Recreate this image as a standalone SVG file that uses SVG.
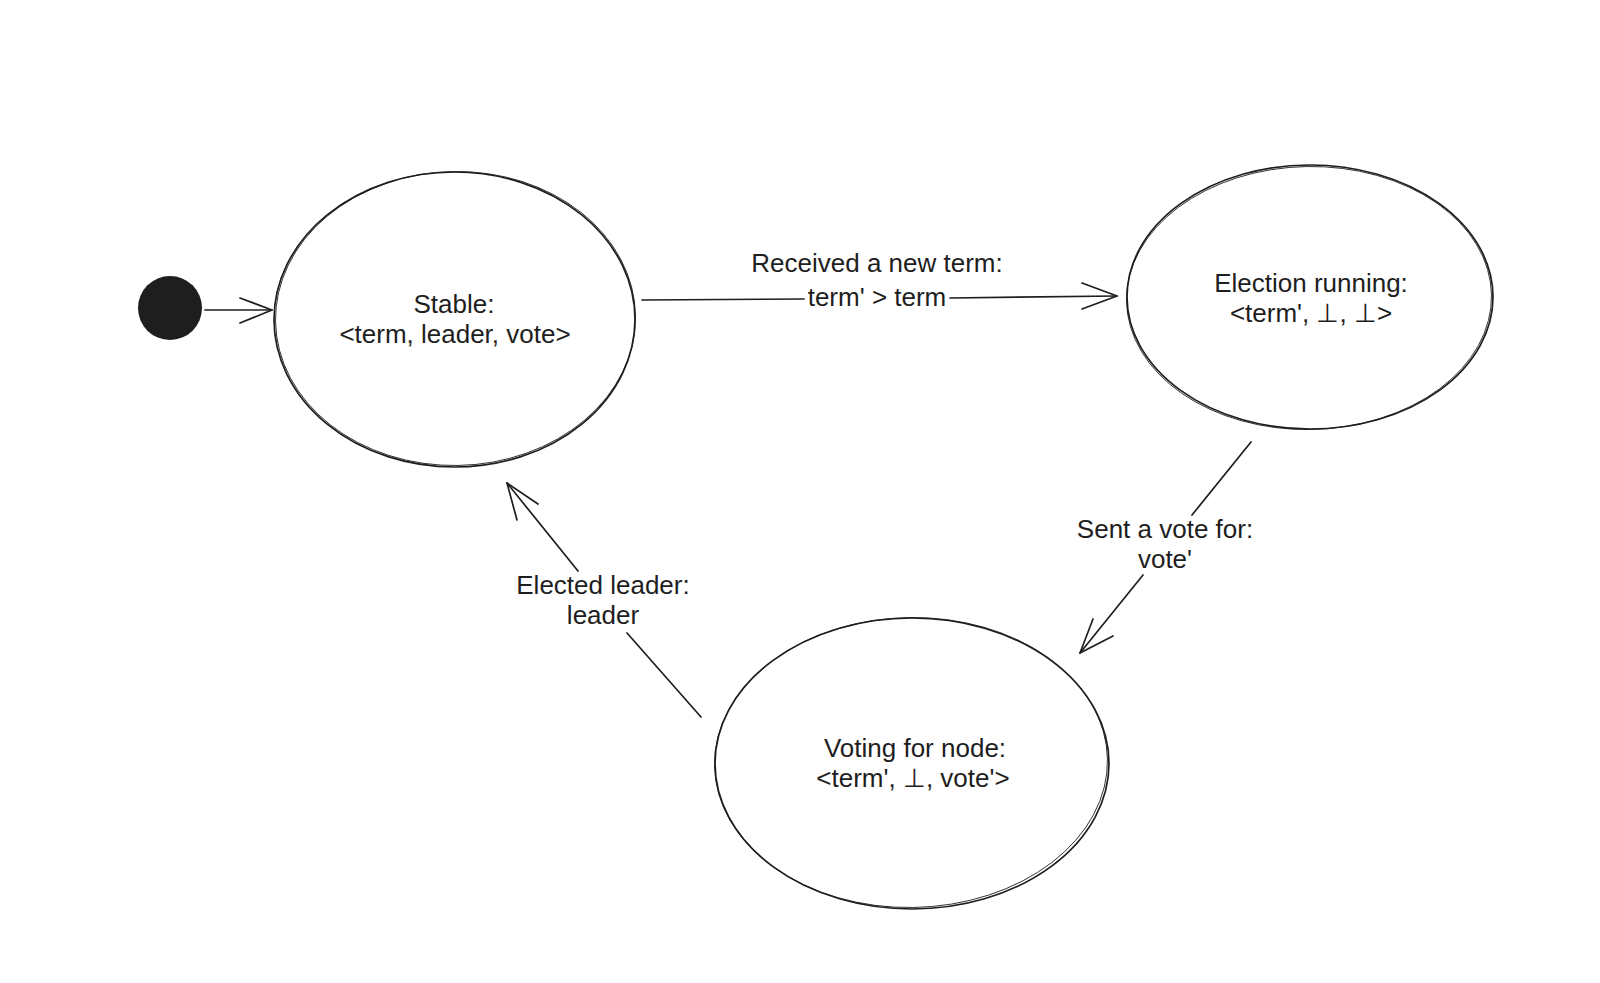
<svg xmlns="http://www.w3.org/2000/svg" width="1600" height="983" viewBox="0 0 1600 983">
<style>
.bg{fill:#ffffff}
.node{fill:none;stroke:#1e1e1e;stroke-width:1.7}
.node2{fill:none;stroke:#1e1e1e;stroke-width:0.9}
.edge{fill:none;stroke:#1e1e1e;stroke-width:1.7;stroke-linecap:round;stroke-linejoin:round}
.lbl{font-family:"Liberation Sans","Noto Sans",sans-serif;font-size:26px;fill:#1e1e1e;text-anchor:middle}
</style>
<rect class="bg" x="0" y="0" width="1600" height="983"/>
<g id="start">
<circle cx="170" cy="308" r="32" fill="#1e1e1e"/>
</g>
<g id="stable">
<ellipse class="node" cx="454.5" cy="319.5" rx="180.5" ry="147.5"/>
<ellipse class="node2" cx="455.5" cy="318.5" rx="180" ry="147" transform="rotate(-1 455 319)"/>
<text class="lbl" x="454" y="313">Stable:</text>
<text class="lbl" x="455" y="343">&lt;term, leader, vote&gt;</text>
</g>
<g id="election">
<ellipse class="node" cx="1310" cy="297" rx="183" ry="132"/>
<ellipse class="node2" cx="1309" cy="298" rx="182.5" ry="131.5" transform="rotate(-1 1310 297)"/>
<text class="lbl" x="1311" y="292">Election running:</text>
<text class="lbl" x="1311" y="322">&lt;term', ⊥, ⊥&gt;</text>
</g>
<g id="voting">
<ellipse class="node" cx="912" cy="763.5" rx="197" ry="145.5"/>
<ellipse class="node2" cx="911" cy="762.5" rx="196.5" ry="145" transform="rotate(-1 912 763)"/>
<text class="lbl" x="915" y="757">Voting for node:</text>
<text class="lbl" x="913" y="787">&lt;term', ⊥, vote'&gt;</text>
</g>
<g id="connectors">
<g id="e-start-stable">
<path class="edge" d="M205 310 L272 310"/>
<path class="edge" d="M240 298 L272 310 L240 323"/>
</g>
<g id="e-stable-election">
<path class="edge" d="M642 300 L804 299"/>
<path class="edge" d="M950 298 L1117 296"/>
<path class="edge" d="M1082 283 L1117 296 L1082 309"/>
<text class="lbl" x="877" y="272">Received a new term:</text>
<text class="lbl" x="877" y="306">term' &gt; term</text>
</g>
<g id="e-election-voting">
<path class="edge" d="M1251 442 L1192 515"/>
<path class="edge" d="M1143 575 L1080 653"/>
<path class="edge" d="M1093 619 L1080 653 L1113 636"/>
<text class="lbl" x="1165" y="538">Sent a vote for:</text>
<text class="lbl" x="1165" y="568">vote'</text>
</g>
<g id="e-voting-stable">
<path class="edge" d="M701 717 L627 633"/>
<path class="edge" d="M578 571 L507 483"/>
<path class="edge" d="M517 520 L507 483 L538 504"/>
<text class="lbl" x="603" y="594">Elected leader:</text>
<text class="lbl" x="603" y="624">leader</text>
</g>
</g>
</svg>
